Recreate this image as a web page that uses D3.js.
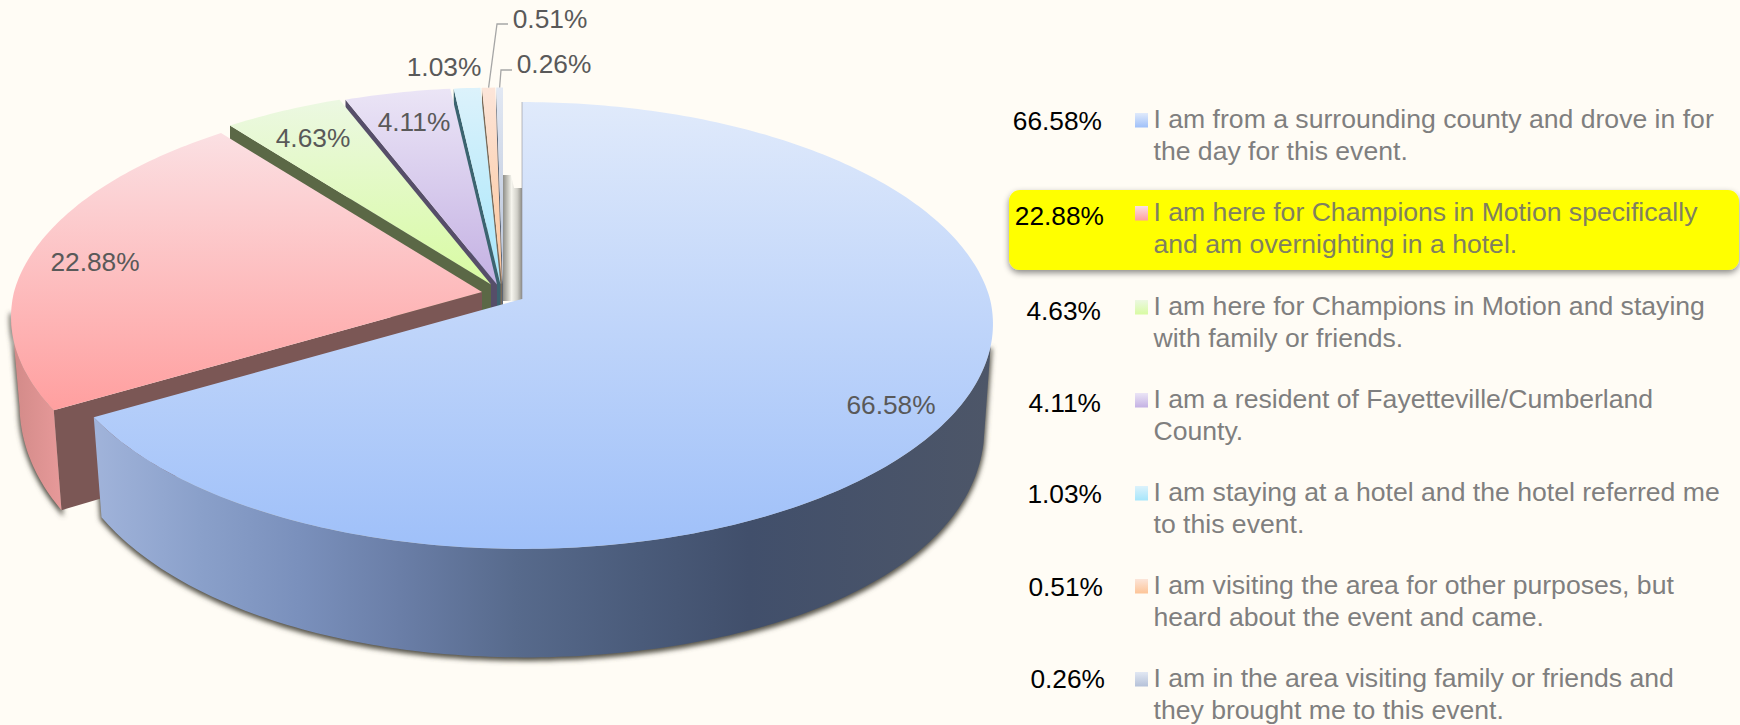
<!DOCTYPE html>
<html>
<head>
<meta charset="utf-8">
<script src="https://cdn.jsdelivr.net/npm/d3@7"></script>
<style>
    html, body { margin: 0; padding: 0; background: #fffcf5; overflow: hidden; }
    text { font-family: "Liberation Sans", Arial, sans-serif; }
</style>
</head>
<body>
<svg id="chart" width="1740" height="725"></svg>
<script>
const values = [66.58, 22.88, 4.63, 4.11, 1.03, 0.51, 0.26];
const valueLabels = ["66.58%", "22.88%", "4.63%", "4.11%", "1.03%", "0.51%", "0.26%"];
const categories = [
    ["I am from a surrounding county and drove in for", "the day for this event."],
    ["I am here for Champions in Motion specifically", "and am overnighting in a hotel."],
    ["I am here for Champions in Motion and staying", "with family or friends."],
    ["I am a resident of Fayetteville/Cumberland", "County."],
    ["I am staying at a hotel and the hotel referred me", "to this event."],
    ["I am visiting the area for other purposes, but", "heard about the event and came."],
    ["I am in the area visiting family or friends and", "they brought me to this event."]
];
const highlighted = 1;

// slice colours: top of face, bottom of face, cut wall
const faceTop = ["#e0eafb", "#fbe0e3", "#ecf8e2", "#ebe5f6", "#dcf2fb", "#fce5d9", "#e2e8f3"];
const faceBottom = ["#9fc0f9", "#ff9f9f", "#d8fba2", "#c4b1e3", "#a6e6fb", "#fdc497", "#b5c1d8"];
const cutWall = ["#4d5a75", "#7b5755", "#5b6846", "#564e69", "#3c6470", "#7a6a58", "#5d6675"];

// exploded apex of each slice on the top face
const apexX = [522, 482, 491, 497, 500.5, 502, 503];
const apexY = [299, 292, 284.5, 284.5, 284.5, 284.5, 284.5];

// label placement
const pieLabelX = [891, 95, 313, 414, 444, 550, 554];
const pieLabelY = [405, 262, 138, 122, 67, 19, 64];
const valueEndX = [1102, 1104, 1101, 1101, 1102, 1103, 1105];
const valueCenterY = [121, 216, 311, 403, 494, 587, 679];
const swatchY = [113, 206, 300, 393, 486, 579, 672];

// disk in perspective, fitted to the rim of the picture
const R = 468, H = 220.3, K = 0.1185;
const kBack = 0.13, kFront = 0.112, sideRx = 0.982;

function project(i, a, side) {
    const c = Math.cos(a), s = Math.sin(a);
    const wx = 1 + (c > 0 ? kBack : kFront) * c;
    if (side) {
        const f = -c;
        const dy = s > 0 ? 98.5 + 260 * f : 82.5 + 262 * f / (1 - 0.05 * f);
        return [apexX[i] + R * sideRx * s / wx, apexY[i] + dy];
    }
    return [apexX[i] + R * s / wx, apexY[i] - H * c / (1 + K * c)];
}

function sweep(i, a0, a1, side) {
    const n = Math.max(2, Math.ceil(Math.abs(a1 - a0) * 60));
    return d3.range(n + 1).map(k => project(i, a0 + (a1 - a0) * k / n, side));
}

const line = d3.line();
const deg = Math.PI / 180;
const svg = d3.select("#chart");
const defs = svg.append("defs");

svg.append("rect").attr("width", 1740).attr("height", 725).attr("fill", "#fffcf5");

defs.append("filter").attr("id", "soft")
    .attr("x", "-10%").attr("y", "-10%").attr("width", "120%").attr("height", "120%")
    .append("feGaussianBlur").attr("stdDeviation", 2.6);

function linear(id, horizontal, stops, userSpace) {
    const g = defs.append("linearGradient").attr("id", id)
        .attr("x1", horizontal ? (userSpace ? userSpace[0] : 0) : 0)
        .attr("x2", horizontal ? (userSpace ? userSpace[1] : 1) : 0)
        .attr("y1", 0).attr("y2", horizontal ? 0 : 1);
    if (userSpace) g.attr("gradientUnits", "userSpaceOnUse");
    stops.forEach(s => g.append("stop").attr("offset", s[0]).attr("stop-color", s[1]));
}

values.forEach((v, i) => linear(`face${i}`, false, [[0, faceTop[i]], [1, faceBottom[i]]]));
linear("wallBlue", true, [[0, "#a0b3da"], [0.116, "#8aa0ca"], [0.227, "#7a90bc"], [0.34, "#6a7ea7"],
    [0.47, "#576a8c"], [0.61, "#4a5b7a"], [0.73, "#414f6b"], [1, "#4d5668"]], [96, 990]);
linear("wallPink", true, [[0, "#d28a88"], [1, "#e69999"]], [12, 60]);
linear("gapStrip", true, [[0, "#8f8e88"], [0.25, "#c8c7bf"], [0.45, "#f6f5ee"], [0.75, "#d0cfc8"], [1, "#8d8c86"]]);

const slices = d3.pie().sort(null).value(d => d)(values);

function sidePath(i, a0, a1, b0, b1) {
    return line(sweep(i, a0, a1, false).concat(sweep(i, b1, b0, true))) + "Z";
}
const blueSide = sidePath(0, 102 * deg, slices[0].endAngle, 100 * deg, slices[0].endAngle);
const pinkSide = sidePath(1, slices[1].startAngle, 265 * deg, slices[1].startAngle, 263 * deg);

// soft shadow under the two big rims
const shadow = svg.append("g").attr("filter", "url(#soft)").attr("transform", "translate(0,2)");
[pinkSide, blueSide].forEach(d => {
    shadow.append("path").attr("d", d)
        .attr("fill", "#55524a").attr("stroke", "#55524a").attr("stroke-width", 3);
});

// what shows through the gap behind the blue slice
const gx = apexX[6], gy = apexY[0];
svg.append("path")
    .attr("d", `M${gx},${gy + 2}V175H${gx + 8}L${gx + 11},188H${apexX[0]}V${gy + 2}Z`)
    .attr("fill", "url(#gapStrip)");

// back to front, so each top face hides the lower part of the next cut wall
d3.range(values.length - 1, -1, -1).forEach(i => {
    const s = slices[i];
    if (i > 0) {
        const outerTop = project(i, s.startAngle, false);
        const outerSide = i === 1 ? project(i, s.startAngle, true) : [outerTop[0], outerTop[1] + 94];
        svg.append("path")
            .attr("d", line([[apexX[i], apexY[i]], outerTop, outerSide, [apexX[i], apexY[i] + 94]]) + "Z")
            .attr("fill", cutWall[i]);
    }
    if (i === 1) svg.append("path").attr("d", pinkSide).attr("fill", "url(#wallPink)");
    if (i === 0) svg.append("path").attr("d", blueSide).attr("fill", "url(#wallBlue)");
    svg.append("path")
        .attr("d", line([[apexX[i], apexY[i]]].concat(sweep(i, s.startAngle, s.endAngle, false))) + "Z")
        .attr("fill", `url(#face${i})`);
});

// thin edge of the blue slice along its straight side
const blueTop = project(0, 0, false);
svg.append("line")
    .attr("x1", apexX[0]).attr("y1", apexY[0]).attr("x2", blueTop[0]).attr("y2", blueTop[1])
    .attr("stroke", "#8f9097").attr("stroke-width", 1).attr("stroke-opacity", 0.6);

// leader lines of the two smallest labels
const leaders = [[5, 508, 24, 497], [6, 512, 70, 501]];
leaders.forEach(([i, x0, y0, x1]) => {
    const mid = (slices[i].startAngle + slices[i].endAngle) / 2;
    const p = project(i, mid, false);
    svg.append("path")
        .attr("d", line([[x0, y0], [x1, y0], [p[0], p[1]]]))
        .attr("fill", "none").attr("stroke", "#a6a6a6").attr("stroke-width", 1.3);
});

svg.append("g").selectAll("text").data(valueLabels).join("text")
    .attr("x", (d, i) => pieLabelX[i])
    .attr("y", (d, i) => pieLabelY[i])
    .attr("dy", "0.35em")
    .attr("text-anchor", "middle")
    .attr("font-size", 26.3)
    .attr("fill", "#595959")
    .text(d => d);

// legend
defs.append("filter").attr("id", "boxShadow")
    .attr("x", "-5%").attr("y", "-20%").attr("width", "110%").attr("height", "150%")
    .append("feDropShadow")
    .attr("dx", 0).attr("dy", 3).attr("stdDeviation", 3)
    .attr("flood-color", "#000").attr("flood-opacity", 0.45);

svg.append("rect")
    .attr("x", 1009).attr("y", 190).attr("width", 730).attr("height", 80).attr("rx", 11)
    .attr("fill", "#ffff00").attr("filter", "url(#boxShadow)");

const legend = svg.append("g").selectAll("g").data(categories).join("g");

legend.append("text")
    .attr("x", (d, i) => valueEndX[i])
    .attr("y", (d, i) => valueCenterY[i])
    .attr("dy", "0.35em")
    .attr("text-anchor", "end")
    .attr("font-size", 26.3)
    .attr("fill", "#000")
    .text((d, i) => valueLabels[i]);

legend.append("rect")
    .attr("x", 1135).attr("y", (d, i) => swatchY[i])
    .attr("width", 13).attr("height", 14.5)
    .attr("fill", (d, i) => `url(#face${i})`);

[0, 1].forEach(row => {
    legend.append("text")
        .attr("x", 1153.5)
        .attr("y", (d, i) => swatchY[i] + 6 + row * 32)
        .attr("dy", "0.35em")
        .attr("font-size", 26.6)
        .attr("fill", (d, i) => i === highlighted ? "#808060" : "#7f7f7f")
        .text(d => d[row]);
});
</script>
</body>
</html>
